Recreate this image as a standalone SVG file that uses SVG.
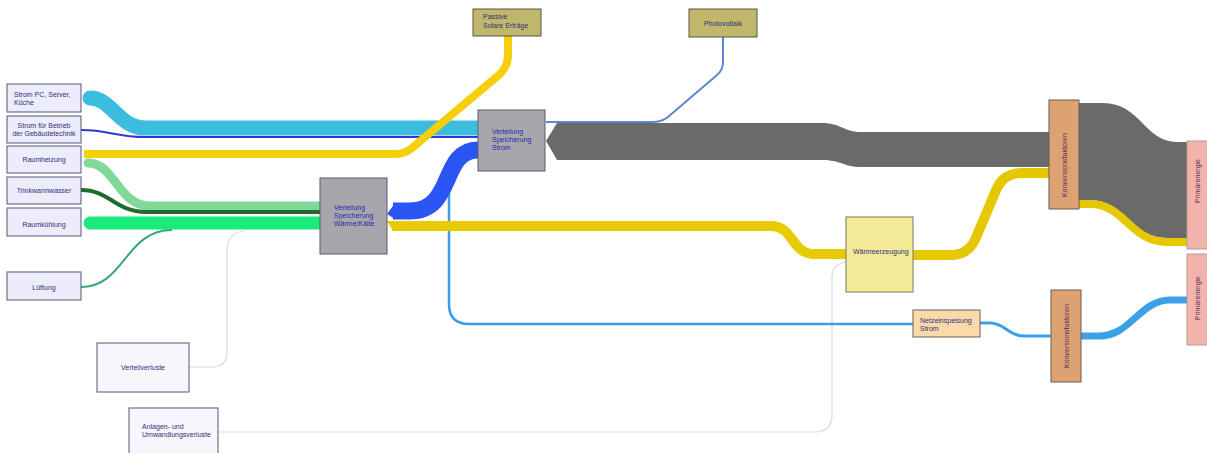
<svg xmlns="http://www.w3.org/2000/svg" width="1207" height="453" viewBox="0 0 1207 453">
<style>
  text { font-family: "Liberation Sans", Arial, sans-serif; font-size: 7px; }
  .lav { fill: #ececfa; stroke: #55557a; stroke-width: 1; }
  .lavt { fill: #30307e; }
  .olive { fill: #c0b76c; stroke: #55554a; stroke-width: 1; }
  .gray { fill: #a6a6ac; stroke: #5a5a70; stroke-width: 1; }
  .bluet { fill: #2a2aa8; }
  .kon { fill: #dca272; stroke: #6a5a50; stroke-width: 1; }
  .prim { fill: #f2b4aa; stroke: #b89a98; stroke-width: 1; }
  .rt { fill: #5a2a5a; }
  .flow { fill: none; }
  .loss { fill: none; stroke: #dadada; stroke-width: 1.2; }
</style>
<rect width="1207" height="453" fill="#ffffff"/>
<g id="connectors">
  <path class="loss" d="M 189 367 L 212 367 Q 227 367 227 352 L 227 250 Q 227 234 243 231"/>
  <path class="loss" d="M 218 432 L 815 432 Q 832 432 832 415 L 832 278 Q 832 264 846 262"/>
  <path class="flow" stroke="#3a9ce8" stroke-width="2.5" d="M 449 162 L 449 304 Q 449 324 469 324 L 913 324"/>
  <path class="flow" stroke="#5f84d8" stroke-width="2" d="M 723 37 L 723 62 Q 723 70 717 75 L 668 117 Q 662 122 652 122 L 546 122"/>
  <path class="flow" stroke="#3cbde0" stroke-width="15" stroke-linecap="round" d="M 90 98 C 112 98 118 128 146 128 L 478 128"/>
  <path class="flow" stroke="#3535d5" stroke-width="2" d="M 81 130 C 110 130 115 137 146 137 L 478 137"/>
  <path class="flow" stroke="#80d89a" stroke-width="9" stroke-linecap="round" d="M 88 163 C 115 163 118 206 150 206 L 320 206"/>
  <path class="flow" stroke="#1f6b2b" stroke-width="4" d="M 81 190 C 110 190 115 212 146 212 L 320 212"/>
  <path class="flow" stroke="#19ec7c" stroke-width="13" stroke-linecap="round" d="M 90 223 L 320 223"/>
  <path class="flow" stroke="#35a874" stroke-width="2" d="M 81 287 C 125 287 125 230 172 230"/>
  <path class="flow" stroke="#f5cf0a" stroke-width="8" d="M 84 154 L 395 154 Q 405 154 412 148 L 500 74 Q 508 66 508 55 L 508 36"/>
  <path class="flow" stroke="#2a55f5" stroke-width="17" d="M 393 211 L 410 211 C 455 211 440 150 478 150"/>
  <polygon points="387,214 395,203 395,219" fill="#2a55f5"/>
  <path class="flow" stroke="#e8cb00" stroke-width="10" d="M 392 226 L 770 226 C 795 226 790 254 815 254 L 846 254"/>
  <polygon points="387,221 393,221 393,231" fill="#e8cb00"/>
  <path class="flow" stroke="#e6c800" stroke-width="10" d="M 913 255 L 950 255 Q 968 255 975 240 L 997 188 Q 1004 173 1022 173 L 1049 173"/>
  <path fill="#6a6a6a" d="M 546 141 L 557 123 L 822 123 C 840 123 845 132 860 132 L 1049 132 L 1049 167 L 860 167 C 845 167 840 160 822 160 L 557 160 Z"/>
  <path fill="#6a6a6a" d="M 1079 103 L 1103 103 C 1140 103 1145 142 1177 142 L 1187 142 L 1187 238 L 1167 238 C 1130 238 1125 200 1090 200 L 1079 200 Z"/>
  <path class="flow" stroke="#e6c800" stroke-width="8" d="M 1079 204 L 1090 204 C 1125 204 1130 242 1167 242 L 1187 242"/>
  <path class="flow" stroke="#3aa0e8" stroke-width="3" d="M 980 323 L 990 323 C 1005 323 1008 336 1025 336 L 1051 336"/>
  <path class="flow" stroke="#3aa0e8" stroke-width="7" d="M 1081 336 L 1100 336 C 1130 336 1140 300 1170 300 L 1187 300"/>
</g>
<g id="n-strom-pc"><rect class="lav" x="7" y="84" width="74" height="28"/><text class="lavt" x="14" y="96.5">Strom PC, Server,</text><text class="lavt" x="14" y="105">Küche</text></g>
<g id="n-strom-betrieb"><rect class="lav" x="7" y="116" width="74" height="27"/><text class="lavt" x="44" y="127.5" text-anchor="middle">Strom für Betrieb</text><text class="lavt" x="44" y="135.5" text-anchor="middle">der Gebäudetechnik</text></g>
<g id="n-raumheizung"><rect class="lav" x="7" y="146" width="74" height="27"/><text class="lavt" x="44" y="161.5" text-anchor="middle">Raumheizung</text></g>
<g id="n-trinkwarmwasser"><rect class="lav" x="7" y="177" width="74" height="27"/><text class="lavt" x="44" y="192.5" text-anchor="middle">Trinkwarmwasser</text></g>
<g id="n-raumkuehlung"><rect class="lav" x="7" y="208" width="74" height="28"/><text class="lavt" x="44" y="226.5" text-anchor="middle">Raumkühlung</text></g>
<g id="n-lueftung"><rect class="lav" x="7" y="272" width="74" height="28"/><text class="lavt" x="44" y="289.5" text-anchor="middle">Lüftung</text></g>
<g id="n-verteilverluste"><rect class="lav" x="97" y="343" width="92" height="49" style="fill:#f6f6fc"/><text class="lavt" x="143" y="369.5" text-anchor="middle">Verteilverluste</text></g>
<g id="n-anlagenverluste"><rect class="lav" x="129" y="408" width="89" height="50" style="fill:#f6f6fc"/><text class="lavt" x="142" y="429">Anlagen- und</text><text class="lavt" x="142" y="437">Umwandlungsverluste</text></g>
<g id="n-passive"><rect class="olive" x="473" y="9" width="68" height="27"/><text class="lavt" x="483" y="19">Passive</text><text class="lavt" x="483" y="27.5">Solare Erträge</text></g>
<g id="n-photovoltaik"><rect class="olive" x="689" y="9" width="68" height="28"/><text class="lavt" x="723" y="25.5" text-anchor="middle">Photovoltaik</text></g>
<g id="n-vs-strom"><rect class="gray" x="478" y="110" width="67" height="61"/><text class="bluet" x="492" y="133.5">Verteilung</text><text class="bluet" x="492" y="141.5">Speicherung</text><text class="bluet" x="492" y="149.5">Strom</text></g>
<g id="n-vs-waerme"><rect class="gray" x="320" y="178" width="67" height="76"/><text class="bluet" x="334" y="209.5">Verteilung</text><text class="bluet" x="334" y="217.5">Speicherung</text><text class="bluet" x="334" y="225.5">Wärme/Kälte</text></g>
<g id="n-waermeerzeugung"><rect x="846" y="217" width="67" height="75" fill="#f2ea96" stroke="#77776a" stroke-width="1"/><text class="lavt" x="853" y="253.5">Wärmeerzeugung</text></g>
<g id="n-netzeinspeisung"><rect x="913" y="310" width="67" height="27" fill="#fbd9a8" stroke="#6a6060" stroke-width="1"/><text class="lavt" x="920" y="322.5">Netzeinspeisung</text><text class="lavt" x="920" y="330.5">Strom</text></g>
<g id="n-konv-top"><rect class="kon" x="1049" y="100" width="30" height="109"/><text class="rt" transform="translate(1066.5,165) rotate(-90)" text-anchor="middle">Konversionsfaktoren</text></g>
<g id="n-konv-bottom"><rect class="kon" x="1051" y="290" width="30" height="92"/><text class="rt" transform="translate(1068.5,336) rotate(-90)" text-anchor="middle">Konversionsfaktoren</text></g>
<g id="n-prim-top"><rect class="prim" x="1187" y="141" width="25" height="108"/><text class="rt" transform="translate(1199.5,181) rotate(-90)" text-anchor="middle">Primärenergie</text></g>
<g id="n-prim-bottom"><rect class="prim" x="1187" y="254" width="25" height="91"/><text class="rt" transform="translate(1199.5,298) rotate(-90)" text-anchor="middle">Primärenergie</text></g>
</svg>
